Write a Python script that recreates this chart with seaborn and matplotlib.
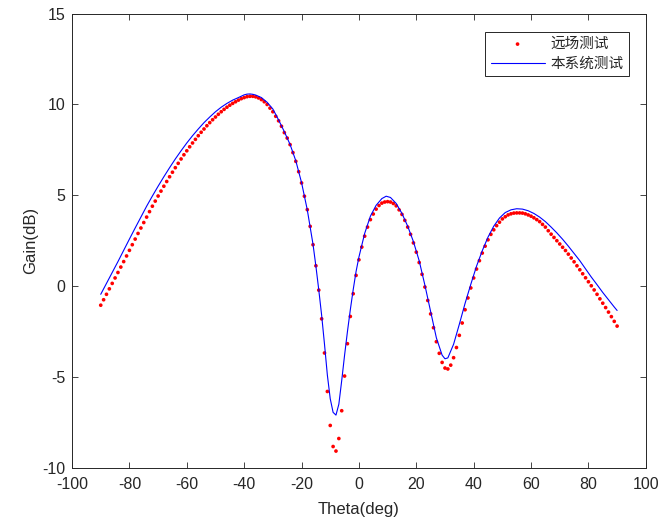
import pandas as pd
import seaborn as sns
import matplotlib.pyplot as plt

# far-field measurement (red dots), one point per degree from -90 to 90
theta_far = list(range(-90, 91))
gain_far = [
    -1.05, -0.75, -0.45, -0.15, 0.15, 0.45, 0.75, 1.05, 1.35, 1.66,
    1.97, 2.28, 2.59, 2.90, 3.20, 3.50, 3.80, 4.10, 4.40, 4.68,
    4.96, 5.23, 5.50, 5.76, 6.02, 6.27, 6.52, 6.76, 7.00, 7.23,
    7.45, 7.67, 7.88, 8.08, 8.28, 8.47, 8.65, 8.83, 9.00, 9.16,
    9.31, 9.46, 9.60, 9.73, 9.85, 9.96, 10.06, 10.15, 10.24, 10.32,
    10.38, 10.43, 10.45, 10.45, 10.42, 10.36, 10.27, 10.15, 10.00, 9.80,
    9.60, 9.35, 9.10, 8.80, 8.45, 8.15, 7.79, 7.35, 6.87, 6.30,
    5.68, 4.95, 4.21, 3.29, 2.28, 1.12, -0.22, -1.80, -3.68, -5.80,
    -7.67, -8.83, -9.08, -8.39, -6.86, -4.95, -3.17, -1.67, -0.42, 0.59,
    1.45, 2.15, 2.75, 3.25, 3.66, 3.97, 4.24, 4.44, 4.57, 4.63,
    4.65, 4.63, 4.55, 4.42, 4.20, 3.95, 3.62, 3.25, 2.85, 2.38,
    1.87, 1.30, 0.65, -0.05, -0.79, -1.53, -2.29, -3.06, -3.70, -4.20,
    -4.51, -4.56, -4.35, -3.94, -3.38, -2.71, -2.03, -1.30, -0.65, -0.10,
    0.45, 0.94, 1.40, 1.82, 2.20, 2.55, 2.85, 3.10, 3.33, 3.52,
    3.70, 3.82, 3.92, 3.98, 4.02, 4.03, 4.03, 4.02, 3.98, 3.92,
    3.85, 3.76, 3.66, 3.55, 3.40, 3.25, 3.05, 2.86, 2.68, 2.50,
    2.32, 2.14, 1.96, 1.76, 1.55, 1.34, 1.12, 0.90, 0.68, 0.46,
    0.24, 0.02, -0.21, -0.45, -0.70, -0.94, -1.18, -1.43, -1.68, -1.94,
    -2.20,
]

# this system's measurement (blue line)
theta_sys = [-90, -88, -86, -84, -82, -80, -78, -76, -74, -72, -70, -68, -66,
             -64, -62, -60, -58, -56, -54, -52, -50, -48, -46, -44, -42, -40,
             -39, -38, -37, -36, -34, -32, -30, -28, -26, -24, -22, -20, -18,
             -16, -15, -14, -13, -12, -11, -10, -9, -8, -7, -6, -5, -4, -3,
             -2, -1, 0, 2, 4, 6, 8, 9.5, 11, 13, 15, 17, 19, 21, 23, 25, 27,
             29, 30, 31, 33, 35, 37, 39, 41, 43, 45, 47, 49, 51, 53, 55, 57,
             59, 61, 63, 65, 67, 69, 71, 73, 75, 77, 79, 81, 83, 85, 87, 89, 90]
gain_sys = [-0.45, 0.15, 0.75, 1.35, 1.97, 2.59, 3.20, 3.80, 4.40, 4.96, 5.50,
            6.02, 6.52, 7.00, 7.45, 7.88, 8.28, 8.65, 9.00, 9.31, 9.60, 9.85,
            10.06, 10.24, 10.38, 10.53, 10.57, 10.58, 10.56, 10.52, 10.38,
            10.12, 9.75, 9.15, 8.50, 7.80, 6.90, 5.70, 4.20, 2.30, 1.10, -0.20,
            -1.60, -3.20, -4.90, -6.20, -6.95, -7.10, -6.50, -5.20, -3.80,
            -2.50, -1.30, -0.20, 0.80, 1.60, 2.90, 3.85, 4.45, 4.82, 4.95,
            4.88, 4.55, 4.00, 3.30, 2.45, 1.40, 0.05, -1.40, -2.85, -3.80,
            -4.00, -3.95, -3.20, -2.10, -0.95, 0.10, 1.10, 1.95, 2.70, 3.30,
            3.75, 4.05, 4.20, 4.26, 4.24, 4.15, 4.00, 3.80, 3.55, 3.25, 2.93,
            2.58, 2.20, 1.80, 1.40, 0.95, 0.50, 0.08, -0.35, -0.75, -1.15, -1.34]

far = pd.DataFrame({"theta": theta_far, "gain": gain_far})
sysm = pd.DataFrame({"theta": theta_sys, "gain": gain_sys})

sns.set_style("white")
plt.rcParams["font.family"] = ["Liberation Sans", "Noto Sans CJK SC", "DejaVu Sans"]
plt.rcParams["axes.unicode_minus"] = False

fig = plt.figure(figsize=(6.61, 5.25), dpi=100)
ax = fig.add_axes([0.109, 0.109, 0.868, 0.865])

sns.scatterplot(data=far, x="theta", y="gain", color="red", s=7,
                edgecolor="none", label="远场测试", ax=ax)
sns.lineplot(data=sysm, x="theta", y="gain", color="blue", lw=0.8,
             estimator=None, sort=False, label="本系统测试", ax=ax)

ax.set_xlim(-100, 100)
ax.set_ylim(-10, 15)
ax.set_xticks(range(-100, 101, 20))
ax.set_yticks(range(-10, 16, 5))
ax.set_xlabel("Theta(deg)", fontsize=12, color="#262626", labelpad=7)
ax.set_ylabel("Gain(dB)", fontsize=12, color="#262626", labelpad=3)
ax.tick_params(direction="in", length=4, width=0.6, labelsize=11.5,
               colors="#262626", top=True, right=True, bottom=True, left=True,
               labeltop=False, labelright=False)
ax.tick_params(axis="x", pad=7)
ax.tick_params(axis="y", pad=5)
for sp in ax.spines.values():
    sp.set_color("#262626")
    sp.set_linewidth(0.7)

leg = ax.legend(loc="upper right", bbox_to_anchor=(0.970, 0.960),
                borderaxespad=0, fancybox=False, framealpha=1,
                edgecolor="#262626", handlelength=3.7, handletextpad=0.4,
                borderpad=0.35, labelspacing=0.4,
                prop={"family": ["Noto Sans CJK SC", "DejaVu Sans"], "size": 10.5})
leg.get_frame().set_linewidth(0.7)

fig.savefig("out.png", dpi=100)
